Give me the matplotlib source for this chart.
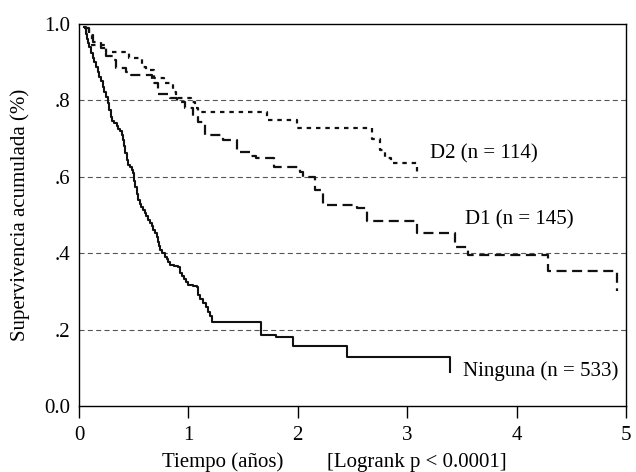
import numpy as np
import matplotlib
matplotlib.use("Agg")
import matplotlib.pyplot as plt

plt.rcParams['font.family'] = ['Liberation Serif', 'DejaVu Serif']

# curvas de supervivencia (tiempo en años, supervivencia acumulada)
t_ninguna = [0.049, 0.06, 0.07, 0.08, 0.094, 0.11, 0.125, 0.14, 0.155, 0.17,
             0.185, 0.20, 0.216, 0.23, 0.245, 0.262, 0.275, 0.292, 0.305, 0.323,
             0.345, 0.36, 0.375, 0.39, 0.405, 0.415, 0.425, 0.435, 0.45, 0.465,
             0.48, 0.496, 0.505, 0.512, 0.527, 0.542, 0.555, 0.57, 0.588, 0.60,
             0.615, 0.63, 0.649, 0.665, 0.68, 0.695, 0.71, 0.72, 0.73, 0.74,
             0.76, 0.786, 0.80, 0.815, 0.832, 0.87, 0.908, 0.923, 0.94, 0.96,
             0.98, 0.999, 1.04, 1.075, 1.09, 1.11, 1.136, 1.16, 1.18, 1.195,
             1.213, 1.66, 1.80, 1.953, 2.447, 3.39]
s_ninguna = [0.993, 0.975, 0.96, 0.95, 0.94, 0.925, 0.91, 0.90, 0.888, 0.875,
             0.862, 0.85, 0.836, 0.822, 0.808, 0.792, 0.775, 0.757, 0.745, 0.74,
             0.733, 0.726, 0.72, 0.71, 0.696, 0.68, 0.662, 0.644, 0.632, 0.625,
             0.617, 0.609, 0.59, 0.574, 0.556, 0.539, 0.53, 0.522, 0.513, 0.505,
             0.497, 0.488, 0.478, 0.47, 0.46, 0.452, 0.443, 0.43, 0.418, 0.408,
             0.40, 0.391, 0.385, 0.377, 0.369, 0.367, 0.365, 0.347, 0.34, 0.332,
             0.325, 0.317, 0.315, 0.312, 0.29, 0.28, 0.269, 0.258, 0.247, 0.235,
             0.221, 0.186, 0.181, 0.158, 0.127, 0.088]

t_d1 = [0.05, 0.09, 0.125, 0.20, 0.25, 0.31, 0.34, 0.43, 0.475, 0.67, 0.72,
        0.83, 0.90, 0.97, 1.04, 1.09, 1.15, 1.32, 1.44, 1.56, 1.62, 1.78, 2.02,
        2.05, 2.16, 2.23, 2.54, 2.63, 3.09, 3.44, 3.56, 4.29, 4.92]
s_d1 = [0.99, 0.97, 0.954, 0.936, 0.915, 0.906, 0.884, 0.875, 0.866, 0.845,
        0.816, 0.805, 0.797, 0.78, 0.76, 0.744, 0.709, 0.696, 0.666, 0.655,
        0.648, 0.626, 0.613, 0.60, 0.565, 0.526, 0.518, 0.484, 0.452, 0.417,
        0.395, 0.354, 0.30]

t_d2 = [0.05, 0.09, 0.12, 0.25, 0.46, 0.58, 0.61, 0.69, 0.78, 0.856, 0.887,
        1.02, 1.06, 1.09, 1.72, 1.99, 2.675, 2.75, 2.80, 2.85, 3.09]
s_d2 = [1.0, 0.97, 0.944, 0.927, 0.91, 0.888, 0.88, 0.858, 0.845, 0.823,
        0.805, 0.797, 0.78, 0.77, 0.75, 0.728, 0.70, 0.67, 0.648, 0.635, 0.613]

etiquetas = ["Ninguna (n = 533)", "D1 (n = 145)", "D2 (n = 114)"]
pos_etiquetas = [(3.51, 0.09), (3.53, 0.487), (3.21, 0.661)]

xticks = [0, 1, 2, 3, 4, 5]
yticks = [0.0, 0.2, 0.4, 0.6, 0.8, 1.0]
yticklabels = ["0.0", ".2", ".4", ".6", ".8", "1.0"]

fig = plt.figure(figsize=(6.36, 4.72), dpi=100)
ax = fig.add_axes([79/636, 1-406/472, 547/636, 382/472])

# lineas de referencia
for y in yticks[1:-1]:
    ax.axhline(y, color='#555555', lw=0.8, dashes=(4.5, 3), zorder=1)

ax.plot(t_ninguna, s_ninguna, drawstyle='steps-post', color='#111111', lw=1.5)
ax.plot(t_d1, s_d1, drawstyle='steps-post', color='#111111', lw=1.6,
        dashes=(4.5, 2.5))
ax.plot(t_d2, s_d2, drawstyle='steps-post', color='#111111', lw=1.6,
        dashes=(2.0, 2.2))

for txt, (x, y) in zip(etiquetas, pos_etiquetas):
    ax.text(x, y, txt, fontsize=15, ha='left', va='center')

ax.set_xlim(0, 5)
ax.set_ylim(0, 1)
ax.set_xticks(xticks)
ax.set_xticklabels([str(x) for x in xticks])
ax.set_yticks(yticks)
ax.set_yticklabels(yticklabels)
ax.tick_params(axis='x', direction='out', length=8.6, width=1, pad=6,
               labelsize=15)
ax.tick_params(axis='y', length=0, pad=6, labelsize=15)
for sp in ax.spines.values():
    sp.set_linewidth(1.0)

ax.set_ylabel("Supervivencia acumulada (%)", fontsize=15)
ax.yaxis.set_label_coords(-0.09, 0.5)

fig.text(223/636, 1-467/472, "Tiempo (años)", fontsize=15, ha='center',
         va='baseline')
fig.text(327/636, 1-467/472, "[Logrank p < 0.0001]", fontsize=15, ha='left',
         va='baseline')

fig.savefig("out.png", dpi=100)
